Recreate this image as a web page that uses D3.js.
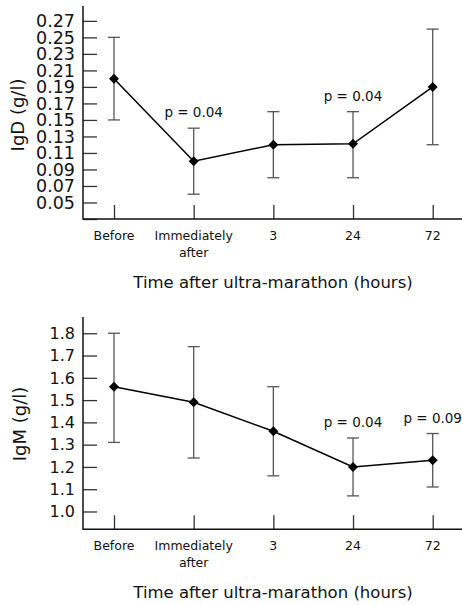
<!DOCTYPE html>
<html><head><meta charset="utf-8">
<script src="https://cdn.jsdelivr.net/npm/d3@7"></script>
<style>
body{margin:0;background:#fff;}
svg{display:block;font-family:"DejaVu Sans",sans-serif;}
</style></head>
<body>
<svg id="c" width="462" height="605"></svg>
<script>
const categories = ["Before", "Immediately after", "3", "24", "72"];
const igdMean = [0.20, 0.10, 0.12, 0.121, 0.19];
const igdLow  = [0.15, 0.06, 0.08, 0.08, 0.12];
const igdHigh = [0.25, 0.14, 0.16, 0.16, 0.26];
const igdTicks = [0.03, 0.05, 0.07, 0.09, 0.11, 0.13, 0.15, 0.17, 0.19, 0.21, 0.23, 0.25, 0.27];
const igdP = [{cat: "Immediately after", text: "p = 0.04"}, {cat: "24", text: "p = 0.04"}];

const igmMean = [1.56, 1.49, 1.36, 1.20, 1.23];
const igmLow  = [1.31, 1.24, 1.16, 1.07, 1.11];
const igmHigh = [1.80, 1.74, 1.56, 1.33, 1.35];
const igmTicks = [1.0, 1.1, 1.2, 1.3, 1.4, 1.5, 1.6, 1.7, 1.8];
const igmP = [{cat: "24", text: "p = 0.04"}, {cat: "72", text: "p = 0.09"}];

const xTitle = "Time after ultra-marathon (hours)";

const svg = d3.select("#c");

function panel(opt) {
  const g = svg.append("g");
  const x = d3.scalePoint().domain(categories).range([114, 432.7]);
  const y = d3.scaleLinear().domain(opt.domain).range(opt.range);
  const left = 83, right = 462;
  const yBot = opt.range[0], yTop = opt.range[1];

  // y ticks (inward)
  const yAxis = d3.axisRight(y).tickValues(opt.ticks).tickSize(14).tickFormat("");
  const ya = g.append("g").attr("transform", `translate(${left},0)`).call(yAxis);
  ya.select(".domain").remove();
  ya.selectAll(".tick line").attr("stroke", "#333").attr("stroke-width", 1.3);
  // y tick labels
  g.selectAll(".ylab").data(opt.ticks.filter(t => t !== opt.domain[0])).join("text")
    .attr("x", 75).attr("y", d => y(d)).attr("dy", "0.36em")
    .attr("text-anchor", "end").attr("font-size", opt.tickFont).attr("fill", "#111")
    .text(d => opt.fmt(d));

  // x ticks (upward)
  const xAxis = d3.axisTop(x).tickSize(14).tickFormat("");
  const xa = g.append("g").attr("transform", `translate(0,${yBot})`).call(xAxis);
  xa.select(".domain").remove();
  xa.selectAll(".tick line").attr("stroke", "#333").attr("stroke-width", 1.3);

  // axis lines
  g.append("line").attr("x1", left).attr("x2", left).attr("y1", yTop).attr("y2", yBot + 0.7)
    .attr("stroke", "#111").attr("stroke-width", 1.5);
  g.append("line").attr("x1", left).attr("x2", right).attr("y1", yBot).attr("y2", yBot)
    .attr("stroke", "#111").attr("stroke-width", 1.5);

  // x tick labels
  categories.forEach(c => {
    const words = c === "Immediately after" ? ["Immediately", "after"] : [c];
    const t = g.append("text").attr("x", x(c)).attr("y", yBot + 21)
      .attr("text-anchor", "middle").attr("font-size", 12.5).attr("fill", "#111");
    words.forEach((w, i) => t.append("tspan").attr("x", x(c)).attr("dy", i ? 16.5 : 0).text(w));
  });

  // x title
  g.append("text").attr("x", 273).attr("y", yBot + 69).attr("text-anchor", "middle")
    .attr("font-size", 16.5).attr("fill", "#111").text(xTitle);

  // y title
  g.append("text").attr("transform", `translate(${opt.yTitleX},${opt.yTitleY}) rotate(-90)`)
    .attr("text-anchor", "middle").attr("font-size", 18).attr("fill", "#111").text(opt.yTitle);

  // error bars
  categories.forEach((c, i) => {
    const cx = x(c);
    g.append("line").attr("x1", cx).attr("x2", cx).attr("y1", y(opt.low[i])).attr("y2", y(opt.high[i]))
      .attr("stroke", "#555").attr("stroke-width", 1.3);
    [opt.low[i], opt.high[i]].forEach(v => {
      g.append("line").attr("x1", cx - 6).attr("x2", cx + 6).attr("y1", y(v)).attr("y2", y(v))
        .attr("stroke", "#555").attr("stroke-width", 1.3);
    });
  });

  // line
  const line = d3.line().x((d, i) => x(categories[i])).y(d => y(d));
  g.append("path").attr("d", line(opt.mean)).attr("fill", "none").attr("stroke", "#000").attr("stroke-width", 1.5);

  // markers
  g.selectAll(".pt").data(opt.mean).join("path")
    .attr("transform", (d, i) => `translate(${x(categories[i])},${y(d)}) rotate(45)`)
    .attr("d", d3.symbol().type(d3.symbolSquare).size(50)).attr("fill", "#000");

  // p labels
  opt.p.forEach(p => {
    const i = categories.indexOf(p.cat);
    g.append("text").attr("x", x(p.cat)).attr("y", y(opt.high[i]) - 11)
      .attr("text-anchor", "middle").attr("font-size", 13.5).attr("fill", "#111").text(p.text);
  });
}

panel({domain: [0.03, 0.288], range: [219, 6], ticks: igdTicks, fmt: d3.format(".2f"), tickFont: 17.5,
  mean: igdMean, low: igdLow, high: igdHigh, p: igdP, yTitle: "IgD (g/l)", yTitleX: 24, yTitleY: 115});
panel({domain: [0.92, 1.873], range: [529.3, 317], ticks: igmTicks, fmt: d3.format(".1f"), tickFont: 16,
  mean: igmMean, low: igmLow, high: igmHigh, p: igmP, yTitle: "IgM (g/l)", yTitleX: 26, yTitleY: 424});
</script>
</body></html>
